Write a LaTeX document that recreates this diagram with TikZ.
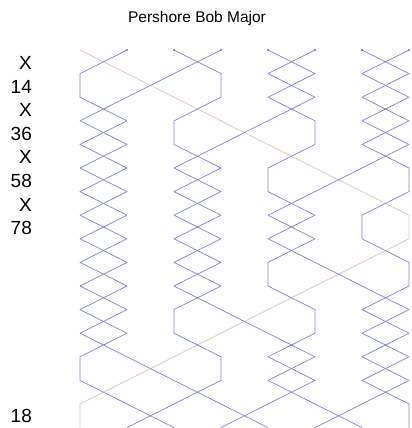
\documentclass[tikz,border=0pt]{standalone}
\usepackage{fontspec}
\setmainfont{Liberation Sans}
\definecolor{bellblue}{RGB}{128,128,218}
\definecolor{hunt}{RGB}{226,196,192}
\definecolor{startdot}{RGB}{70,70,110}
\tikzset{
    bellpath/.style={bellblue, line width=0.7pt, line join=round},
    treblepath/.style={hunt, line width=0.8pt, line join=round},
    pn/.style={anchor=east, inner sep=0pt, font=\fontsize{19}{19}\selectfont},
}
\begin{document}
\begin{tikzpicture}[x=47pt, y=-23.6pt]
\useasboundingbox (-0.702,-2.119) rectangle (8.064,16.017);
\node[anchor=base, inner sep=0pt, font=\fontsize{15.5}{16}\selectfont] (title) at (3.49,-1.16) {Pershore Bob Major};
\foreach \txt [count=\k] in {X,14,X,36,X,58,X,78}
{
    \node[pn] (pn\k) at (-0.02,\k-0.45) {\txt};
}
\node[pn] (pn16) at (-0.02,15.52) {18};
\draw[treblepath] (1,0) \foreach \p [count=\k] in {2,3,4,5,6,7,8,8,7,6,5,4,3,2,1,1} { -- (\p,\k) };
\foreach \s/\rest in {
    2/{1,1,2,1,2,1,2,1,2,1,2,1,2,3,4,5},
    3/{4,4,3,3,4,3,4,3,4,3,4,5,6,5,6,7},
    4/{3,2,1,2,1,2,1,2,1,2,1,2,1,1,2,3},
    5/{6,5,6,6,5,5,6,5,6,7,8,7,8,7,8,8},
    6/{5,6,5,4,3,4,3,4,3,4,3,3,4,4,3,2},
    7/{8,7,8,7,8,8,7,7,8,8,7,8,7,8,7,6},
    8/{7,8,7,8,7,6,5,6,5,5,6,6,5,6,5,4}}
{
    \draw[bellpath] (\s,0) \foreach \p [count=\k] in \rest { -- (\p,\k) };
    \fill[startdot] (\s,0) circle (0.9pt);
}
\end{tikzpicture}
\end{document}
